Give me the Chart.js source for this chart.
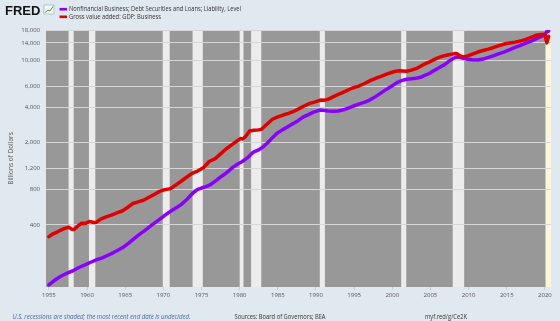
<!DOCTYPE html>
<html>
<head>
<meta charset="utf-8">
<script src="https://cdn.jsdelivr.net/npm/chart.js@4.4.1/dist/chart.umd.min.js"></script>
<style>
  html, body { margin: 0; padding: 0; background: #e1e9f0; }
  #chart { display: block; }
</style>
</head>
<body>
<canvas id="chart" width="560" height="321"></canvas>
<script>
// Nonfinancial business debt (billions)
const debtYears = [1955.0, 1955.7, 1956.5, 1957.3, 1958.2, 1959.0, 1959.8, 1960.4, 1961.2, 1962.0, 1962.6, 1963.4, 1964.1, 1964.8,
  1965.5, 1966.2, 1966.9, 1967.6, 1968.3, 1969.1, 1969.8, 1970.4, 1971.1, 1971.8, 1972.4, 1973.1, 1973.9, 1974.5, 1975.0,
  1975.6, 1976.1, 1976.9, 1977.6, 1978.3, 1979.1, 1979.8, 1980.3, 1981.0, 1981.8, 1982.4, 1983.0, 1983.6, 1984.3, 1984.9,
  1985.6, 1986.3, 1986.9, 1987.6, 1988.3, 1989.0, 1989.7, 1990.5, 1991.0, 1991.6, 1992.3, 1992.9, 1993.6, 1994.4, 1995.1,
  1995.8, 1996.5, 1997.1, 1997.8, 1998.5, 1999.2, 1999.9, 2000.6, 2001.2, 2001.9, 2002.5, 2003.1, 2003.7, 2004.4, 2005.0,
  2005.6, 2006.3, 2006.9, 2007.5, 2008.0, 2008.4, 2008.8, 2009.3, 2009.9, 2010.5, 2011.2, 2011.9, 2012.6, 2013.3, 2014.0,
  2014.7, 2015.4, 2016.1, 2016.8, 2017.5, 2018.2, 2018.9, 2019.5, 2020.0, 2020.25, 2020.5];
const debtValues = [124, 135, 146, 155, 164, 175, 184, 192, 202, 210, 219, 232, 245, 260,
  282, 308, 334, 360, 390, 427, 462, 494, 530, 565, 600, 660, 750, 800, 822,
  845, 873, 950, 1030, 1112, 1230, 1320, 1375, 1480, 1660, 1720, 1820, 1970, 2200, 2400,
  2560, 2720, 2870, 3050, 3280, 3450, 3620, 3770, 3760, 3700, 3680, 3700, 3790, 3960, 4120,
  4280, 4420, 4600, 4900, 5250, 5640, 6000, 6440, 6700, 6870, 6950, 7020, 7150, 7480, 7800,
  8250, 8750, 9200, 9850, 10350, 10600, 10550, 10350, 10150, 10050, 10020, 10200, 10550, 10900, 11350,
  11750, 12250, 12800, 13350, 13950, 14500, 15200, 15850, 16300, 17500, 17600];

// Gross value added: GDP: Business (billions)
const gvaYears = [1955.0, 1955.5, 1956.0, 1956.5, 1957.0, 1957.6, 1958.0, 1958.3, 1958.8, 1959.3, 1959.8, 1960.3, 1960.9, 1961.2,
  1961.8, 1962.5, 1963.2, 1964.0, 1964.6, 1965.3, 1966.0, 1966.7, 1967.4, 1968.0, 1968.8, 1969.5, 1970.0, 1970.6, 1970.9,
  1971.5, 1972.2, 1973.0, 1973.7, 1974.3, 1974.9, 1975.3, 1976.0, 1976.8, 1977.5, 1978.3, 1979.0, 1979.7, 1980.1, 1980.4,
  1980.8, 1981.3, 1981.9, 1982.5, 1982.9, 1983.5, 1984.3, 1985.0, 1985.7, 1986.4, 1987.0, 1987.8, 1988.5, 1989.2, 1989.9,
  1990.6, 1991.0, 1991.5, 1992.3, 1993.1, 1993.9, 1994.7, 1995.5, 1996.3, 1997.1, 1997.9, 1998.7, 1999.5, 2000.3, 2000.9,
  2001.4, 2001.9, 2002.6, 2003.3, 2004.0, 2004.8, 2005.8, 2006.6, 2007.4, 2008.2, 2008.5, 2008.9, 2009.3, 2009.8, 2010.5,
  2011.2, 2011.9, 2012.6, 2013.3, 2014.0, 2014.7, 2015.4, 2016.1, 2016.8, 2017.5, 2018.2, 2018.9, 2019.5, 2020.0, 2020.25, 2020.5];
const gvaValues = [318, 335, 345, 360, 372, 383, 368, 365, 392, 414, 412, 428, 420, 422,
  448, 468, 485, 508, 525, 562, 608, 628, 648, 680, 725, 770, 790, 805, 810,
  860, 925, 1010, 1090, 1130, 1185, 1230, 1380, 1460, 1600, 1780, 1920, 2070, 2160, 2140,
  2260, 2500, 2540, 2560, 2600, 2830, 3150, 3300, 3420, 3530, 3650, 3880, 4100, 4290, 4420,
  4580, 4560, 4620, 4900, 5180, 5450, 5770, 5980, 6300, 6700, 7030, 7350, 7700, 8000, 8120,
  8080, 8050, 8260, 8560, 9100, 9600, 10350, 10800, 11100, 11350, 11300, 10850, 10650, 10800, 11250,
  11700, 12050, 12400, 12800, 13250, 13700, 13950, 14200, 14500, 15000, 15600, 16250, 16500, 16600, 14000, 15900];

const seriesNames = ['Nonfinancial Business; Debt Securities and Loans; Liability, Level', 'Gross value added: GDP: Business'];
const seriesColors = ['#8a00ff', '#e00000'];

// recessions (last one still open)
const recStart = [1957.58, 1960.25, 1969.92, 1973.83, 1980.0, 1981.5, 1990.5, 2001.17, 2007.92, 2020.08];
const recEnd = [1958.25, 1961.08, 1970.83, 1975.17, 1980.5, 1982.83, 1991.17, 2001.83, 2009.42, 2021.0];

const xTicks = [1955, 1960, 1965, 1970, 1975, 1980, 1985, 1990, 1995, 2000, 2005, 2010, 2015, 2020];
const yTicks = [400, 800, 1200, 2000, 4000, 6000, 10000, 14000, 18000];

const toPoints = (xs, ys) => xs.map((x, i) => ({ x: x, y: ys[i] }));

const fredExtras = {
  id: 'fredExtras',
  beforeDraw(chart) {
    const { ctx, chartArea: a, scales: { x } } = chart;
    ctx.save();
    ctx.fillStyle = '#e1e9f0';
    ctx.fillRect(0, 0, chart.width, chart.height);
    ctx.fillStyle = '#989898';
    ctx.fillRect(a.left, a.top, a.right - a.left, a.bottom - a.top);
    recStart.forEach((s, i) => {
      const x0 = Math.max(x.getPixelForValue(s), a.left);
      const x1 = Math.min(x.getPixelForValue(recEnd[i]), a.right);
      ctx.fillStyle = i === recStart.length - 1 ? '#fcf7da' : '#ececec';
      ctx.fillRect(x0, a.top, x1 - x0, a.bottom - a.top);
    });
    ctx.restore();
  },
  afterDraw(chart) {
    const ctx = chart.ctx;
    const a = chart.chartArea;
    ctx.save();
    // logo
    ctx.fillStyle = '#111';
    ctx.font = 'bold 13px "Liberation Sans"';
    ctx.textBaseline = 'alphabetic';
    ctx.fillText('FRED', 5, 14.5, 37);
    // little chart icon
    ctx.fillStyle = '#f4f6f8';
    ctx.fillRect(44, 5, 10, 9);
    ctx.strokeStyle = '#9aa7b3';
    ctx.lineWidth = 0.6;
    ctx.strokeRect(44, 5, 10, 9);
    ctx.strokeStyle = '#4f9a3c';
    ctx.lineWidth = 1;
    ctx.beginPath();
    ctx.moveTo(45, 12.5); ctx.lineTo(48, 10); ctx.lineTo(50, 11); ctx.lineTo(53, 6.5);
    ctx.stroke();

    // legend
    ctx.font = '7px "Open Sans"';
    ctx.textBaseline = 'middle';
    const legendY = [9.2, 16.8];
    const legendW = [172, 92];
    seriesNames.forEach((name, i) => {
      ctx.fillStyle = seriesColors[i];
      ctx.fillRect(59.5, legendY[i] - 1.3, 7.5, 2.6);
      ctx.fillStyle = '#333';
      ctx.fillText(name, 69, legendY[i], legendW[i]);
    });

    // y axis title
    ctx.save();
    ctx.translate(11.5, (a.top + a.bottom) / 2);
    ctx.rotate(-Math.PI / 2);
    ctx.textAlign = 'center';
    ctx.fillStyle = '#555';
    ctx.font = '6.5px "Open Sans"';
    ctx.fillText('Billions of Dollars', 0, 0);
    ctx.restore();

    // footer
    ctx.font = 'italic 6.5px "Open Sans"';
    ctx.fillStyle = '#3d6aa8';
    ctx.textAlign = 'left';
    ctx.fillText('U.S. recessions are shaded; the most recent end date is undecided.', 12.5, 317.5, 178);
    ctx.font = '6.5px "Open Sans"';
    ctx.fillStyle = '#333';
    ctx.fillText('Sources: Board of Governors; BEA', 234.5, 317.5, 91);
    ctx.fillText('myf.red/g/Ce2K', 425, 317.5, 42);
    ctx.restore();
  }
};

new Chart(document.getElementById('chart'), {
  type: 'line',
  data: {
    datasets: [
      {
        label: seriesNames[0],
        data: toPoints(debtYears, debtValues),
        borderColor: seriesColors[0],
        borderWidth: 3.5,
        pointRadius: 0,
        tension: 0,
        order: 1
      },
      {
        label: seriesNames[1],
        data: toPoints(gvaYears, gvaValues),
        borderColor: seriesColors[1],
        borderWidth: 3.5,
        pointRadius: 0,
        tension: 0,
        order: 0
      }
    ]
  },
  options: {
    responsive: false,
    animation: false,
    devicePixelRatio: 1,
    layout: { padding: { top: 30, right: 9, left: 0, bottom: 0 } },
    plugins: {
      legend: { display: false },
      tooltip: { enabled: false }
    },
    elements: { line: { borderCapStyle: 'round', borderJoinStyle: 'round' } },
    scales: {
      x: {
        type: 'linear',
        min: 1954.62,
        max: 2020.8,
        afterBuildTicks: (s) => { s.ticks = xTicks.map(v => ({ value: v })); },
        afterFit: (s) => { s.height = 34; },
        border: { display: false },
        grid: { drawOnChartArea: false, drawTicks: true, tickLength: 3, color: '#c5cfd8' },
        ticks: {
          autoSkip: false,
          maxRotation: 0,
          padding: 2,
          color: '#555',
          font: { family: 'Open Sans', size: 6 },
          callback: (v) => String(v)
        }
      },
      y: {
        type: 'logarithmic',
        min: 119,
        max: 18000,
        afterBuildTicks: (s) => { s.ticks = yTicks.map(v => ({ value: v })); },
        afterFit: (s) => { s.width = 46; },
        border: { display: false },
        grid: { drawTicks: false, color: '#d6d6d6', lineWidth: 1 },
        ticks: {
          padding: 6,
          color: '#555',
          font: { family: 'Open Sans', size: 6 },
          callback: (v) => v.toLocaleString('en-US')
        }
      }
    }
  },
  plugins: [fredExtras]
});
</script>
</body>
</html>
